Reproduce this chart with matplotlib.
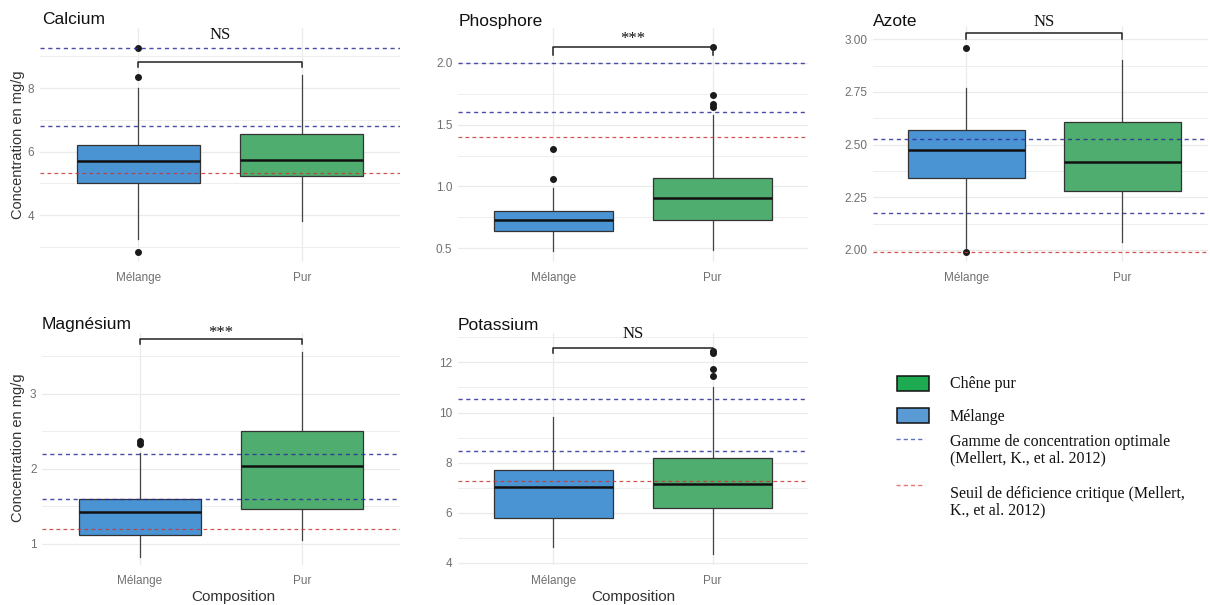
import matplotlib
matplotlib.use("Agg")
import matplotlib.pyplot as plt
from matplotlib.patches import Rectangle
from matplotlib.lines import Line2D
import numpy as np

# ---------------- data ----------------
panels = ["Calcium", "Phosphore", "Azote", "Magnésium", "Potassium"]
groups = ["Mélange", "Pur"]

# box summaries: [whislo, q1, median, q3, whishi]
calcium_melange = [3.26, 5.00, 5.69, 6.22, 8.00]
calcium_pur = [3.80, 5.22, 5.73, 6.54, 8.41]
phosphore_melange = [0.48, 0.64, 0.73, 0.80, 0.99]
phosphore_pur = [0.49, 0.73, 0.91, 1.07, 1.58]
azote_melange = [2.01, 2.342, 2.473, 2.568, 2.77]
azote_pur = [2.04, 2.28, 2.416, 2.606, 2.90]
magnesium_melange = [0.83, 1.12, 1.43, 1.596, 2.21]
magnesium_pur = [1.05, 1.47, 2.04, 2.51, 3.56]
potassium_melange = [4.64, 5.79, 7.04, 7.71, 9.84]
potassium_pur = [4.34, 6.19, 7.14, 8.20, 11.0]

# outliers
calcium_out = [[9.26, 8.34, 2.83], []]
phosphore_out = [[1.30, 1.06], [2.13, 1.74, 1.67, 1.645]]
azote_out = [[2.96, 1.99], []]
magnesium_out = [[2.33, 2.37], []]
potassium_out = [[], [12.36, 12.44, 11.74, 11.45]]

# reference thresholds (Mellert et al. 2012)
optimal_range = [[6.8, 9.25], [1.6, 2.0], [2.175, 2.527], [1.6, 2.2], [8.45, 10.55]]
critical_threshold = [5.32, 1.40, 1.99, 1.20, 7.25]

# significance annotations
signif_labels = ["NS", "***", "NS", "***", "NS"]
bracket_y = [8.83, 2.127, 3.03, 3.73, 12.57]
bracket_drop = [8.66, 2.06, 3.00, 3.67, 12.37]
label_y = [9.53, 2.159, 3.063, 3.76, 12.96]

# axis settings
y_limits = [(2.52, 9.89), (0.39, 2.28), (1.943, 3.063), (0.72, 3.81), (3.92, 13.17)]
y_major = [[4, 6, 8], [0.5, 1.0, 1.5, 2.0], [2.00, 2.25, 2.50, 2.75, 3.00], [1, 2, 3], [4, 6, 8, 10, 12]]
y_minor = [[3, 5, 7, 9], [0.75, 1.25, 1.75], [2.125, 2.375, 2.625, 2.875], [1.5, 2.5, 3.5], [5, 7, 9, 11, 13]]
y_ticklabels = [["4", "6", "8"], ["0.5", "1.0", "1.5", "2.0"], ["2.00", "2.25", "2.50", "2.75", "3.00"],
                ["1", "2", "3"], ["4", "6", "8", "10", "12"]]

box_data = [
    (calcium_melange, calcium_pur, calcium_out),
    (phosphore_melange, phosphore_pur, phosphore_out),
    (azote_melange, azote_pur, azote_out),
    (magnesium_melange, magnesium_pur, magnesium_out),
    (potassium_melange, potassium_pur, potassium_out),
]

legend_labels = ["Chêne pur", "Mélange", "Gamme de concentration optimale\n(Mellert, K., et al. 2012)",
                 "Seuil de déficience critique (Mellert,\nK., et al. 2012)"]

# ---------------- style ----------------
W, H = 1210, 605
fig = plt.figure(figsize=(W / 100, H / 100), dpi=100)
fig.patch.set_facecolor("white")

SANS = ["Liberation Sans", "DejaVu Sans"]
SERIF = ["Liberation Serif", "DejaVu Serif"]
col_melange = "#4a94d4"
col_pur = "#4fae6f"
col_opt = "#2e2e96"
col_crit = "#c83535"
grid_col = "#ebebeb"

# panel rectangles in pixels: left, top, right, bottom
panel_px = [(40, 28, 400, 262), (458, 28, 808, 262), (873, 26, 1208, 262),
            (42, 333, 400, 565), (458, 333, 808, 565)]
x_limits = [(0.4, 2.6), (0.4, 2.6), (0.4, 2.55), (0.4, 2.6), (0.4, 2.6)]
title_px = [(42, 20), (459, 21.5), (873, 21.5), (42, 325), (458, 325)]
show_xlabel = [False, False, False, True, True]
show_ylabel = [True, False, False, True, False]


def px_rect(l, t, r, b):
    return [l / W, 1 - b / H, (r - l) / W, (b - t) / H]


for i, name in enumerate(panels):
    l, t, r, b = panel_px[i]
    ax = fig.add_axes(px_rect(l, t, r, b))
    ax.set_facecolor("white")
    for s in ax.spines.values():
        s.set_visible(False)

    m, p, outs = box_data[i]
    stats = []
    for vals, fl in zip((m, p), outs):
        stats.append(dict(whislo=vals[0], q1=vals[1], med=vals[2], q3=vals[3], whishi=vals[4], fliers=fl))
    bp = ax.bxp(stats, positions=[1, 2], widths=0.75, patch_artist=True, showfliers=True,
                manage_ticks=False,
                boxprops=dict(edgecolor="#333333", linewidth=0.9),
                medianprops=dict(color="#111111", linewidth=1.8),
                whiskerprops=dict(color="#444444", linewidth=0.9),
                capprops=dict(linewidth=0),
                flierprops=dict(marker="o", markerfacecolor="#1a1a1a", markeredgecolor="#1a1a1a",
                                markersize=4, linestyle="none"))
    for patch, c in zip(bp["boxes"], (col_melange, col_pur)):
        patch.set_facecolor(c)
    for wk in bp["whiskers"]:
        wk.set_zorder(1.5)

    ax.set_xlim(*x_limits[i])
    ax.set_ylim(*y_limits[i])
    ax.set_yticks(y_major[i])
    ax.set_yticklabels(y_ticklabels[i])
    ax.set_yticks(y_minor[i], minor=True)
    ax.set_xticks([1, 2])
    ax.set_xticklabels(groups)
    ax.tick_params(axis="both", which="both", length=0)
    ax.tick_params(axis="y", pad=4, labelsize=8.5, labelcolor="#707070")
    ax.tick_params(axis="x", pad=7, labelsize=8.5, labelcolor="#707070")
    for lab in ax.get_xticklabels() + ax.get_yticklabels():
        lab.set_family(SANS)
    ax.grid(True, which="major", color=grid_col, lw=0.9)
    ax.grid(True, which="minor", axis="y", color=grid_col, lw=0.6)
    ax.set_axisbelow(True)

    for yv in optimal_range[i]:
        ax.axhline(yv, color=col_opt, lw=1.0, ls=(0, (3, 2.6)), alpha=0.85, zorder=3)
    ax.axhline(critical_threshold[i], color=col_crit, lw=0.9, ls=(0, (3, 2.6)), alpha=0.85, zorder=3)

    # significance bracket
    ax.plot([1, 1, 2, 2], [bracket_drop[i], bracket_y[i], bracket_y[i], bracket_drop[i]],
            color="#222222", lw=1.1, clip_on=False, zorder=4)
    ax.text(1.5, label_y[i], signif_labels[i], ha="center", va="baseline",
            family=SERIF, fontsize=12, color="#111111", clip_on=False)

    tx, ty = title_px[i]
    fig.text(tx / W, 1 - ty / H, name, ha="left", va="center", family=SANS, fontsize=12.5, color="#111111")

    if show_ylabel[i]:
        cy = (t + b) / 2 if i == 0 else 448
        fig.text(18 / W, 1 - cy / H, "Concentration en mg/g", rotation=90, ha="center", va="center",
                 family=SANS, fontsize=10.5, color="#333333")
    if show_xlabel[i]:
        cx = 233 if i == 3 else 633
        fig.text(cx / W, 1 - 596.5 / H, "Composition", ha="center", va="center",
                 family=SANS, fontsize=11, color="#333333")

# ---------------- legend ----------------
lax = fig.add_axes([0, 0, 1, 1])
lax.set_xlim(0, W)
lax.set_ylim(H, 0)
lax.axis("off")
lax.patch.set_alpha(0)

lax.add_patch(Rectangle((897, 376), 31.5, 15, facecolor="#1daa50", edgecolor="#111111", lw=1.1))
lax.add_patch(Rectangle((897, 407.5), 31.5, 15, facecolor="#5b9bd5", edgecolor="#111111", lw=1.1))
lax.add_line(Line2D([896, 925], [438.5, 438.5], color="#6070c0", lw=1.0, ls=(0, (3, 2.2))))
lax.add_line(Line2D([896, 925], [485, 485], color="#e07a7a", lw=1.0, ls=(0, (3, 2.2))))

text_kw = dict(ha="left", va="center", family=SERIF, fontsize=11.5, color="#111111", linespacing=1.05)
lax.text(950, 383.5, legend_labels[0], **text_kw)
lax.text(950, 417, legend_labels[1], **text_kw)
lax.text(950, 450, legend_labels[2], **text_kw)
lax.text(950, 502.5, legend_labels[3], **text_kw)

fig.savefig("out.png", dpi=100, facecolor="white")
